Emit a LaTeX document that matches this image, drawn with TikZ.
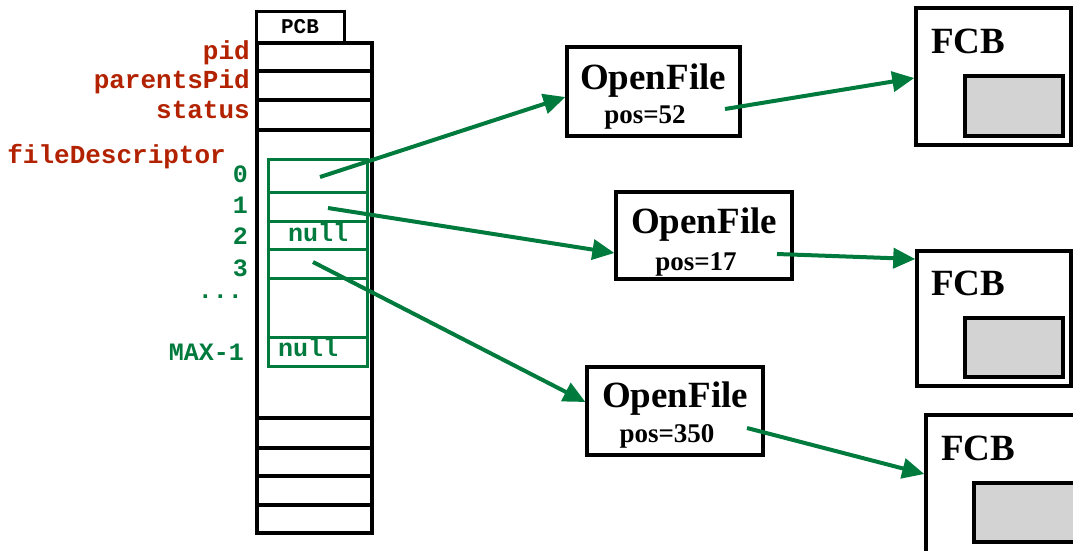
\documentclass[tikz,border=0pt]{standalone}
\usepackage{fontspec}
\setmainfont{Liberation Serif}
\setmonofont{Liberation Mono}
\usetikzlibrary{arrows.meta,calc}
\definecolor{fgreen}{RGB}{0,122,61}
\definecolor{fred}{RGB}{178,34,0}
\definecolor{fgrey}{RGB}{211,211,211}
\begin{document}
\begin{tikzpicture}[x=1pt,y=-1pt,
  pcbbox/.style={draw=black,line width=4pt,fill=white,inner sep=0pt},
  ofbox/.style={draw=black,line width=3.2pt,fill=white,inner sep=0pt},
  greybox/.style={draw=black,line width=3.5pt,fill=fgrey,inner sep=0pt},
  fdbox/.style={draw=fgreen,line width=3pt,inner sep=0pt},
  redlbl/.style={anchor=base east,inner sep=0pt,text=fred,font=\ttfamily\bfseries\fontsize{26}{26}\selectfont},
  grnlbl/.style={inner sep=0pt,text=fgreen,font=\ttfamily\bfseries\fontsize{25}{25}\selectfont},
  bigtxt/.style={inner sep=0pt,font=\bfseries\fontsize{37}{37}\selectfont},
  postxt/.style={anchor=base,inner sep=0pt,font=\bfseries\fontsize{27}{27}\selectfont},
  link/.style={draw=fgreen,line width=4pt,-{Triangle[length=22pt,width=20pt]}}]
\useasboundingbox (0,0) rectangle (1073,550);
\clip (0,0) rectangle (1073,550);

% PCB
\node[pcbbox,line width=3pt,minimum width=88pt,minimum height=31pt,
      font=\ttfamily\bfseries\fontsize{21}{21}\selectfont] (tab) at (300,27) {PCB};
\node[pcbbox,minimum width=115pt,minimum height=490pt] (pcb) at (314.5,288) {};
\foreach \yy in {71,100,130,418,448,476,505}
  \draw[line width=4pt] (pcb.west |- 0,\yy) -- (pcb.east |- 0,\yy);

% file descriptor table
\node[fdbox,minimum width=99pt,minimum height=207pt] (fd) at (317.5,262.5) {};
\foreach \yy in {192,221,249,278,337}
  \draw[draw=fgreen,line width=3pt] (fd.west |- 0,\yy) -- (fd.east |- 0,\yy);

% red labels
\node[redlbl] (lpid) at (250,59) {pid};
\node[redlbl] (lppid) at (250,88) {parentsPid};
\node[redlbl] (lstat) at (250,118) {status};
\node[redlbl] (lfd) at (226,163) {fileDescriptor};

% green labels
\node[grnlbl,anchor=base east] (l0) at (248,182) {0};
\node[grnlbl,anchor=base east] (l1) at (248,213) {1};
\node[grnlbl,anchor=base east] (l2) at (248,244) {2};
\node[grnlbl,anchor=base east] (l3) at (248,276) {3};
\node[grnlbl,anchor=base east] (ldots) at (243,298) {...};
\node[grnlbl,anchor=base east] (lmax) at (244,360) {MAX-1};
\node[grnlbl,anchor=base west] (n2) at (288,241) {null};
\node[grnlbl,anchor=base west] (nmax) at (278,356) {null};

% OpenFile boxes
\node[ofbox,minimum width=173pt,minimum height=89pt] (of1) at (653.5,91.5) {};
\node[bigtxt,anchor=base] (of1t) at (653,89) {OpenFile};
\node[postxt] (of1p) at (645,123) {pos=52};
\node[ofbox,minimum width=176pt,minimum height=87pt] (of2) at (704,235.5) {};
\node[bigtxt,anchor=base] (of2t) at (704,233) {OpenFile};
\node[postxt] (of2p) at (696,270) {pos=17};
\node[ofbox,minimum width=176pt,minimum height=88pt] (of3) at (675,411) {};
\node[bigtxt,anchor=base] (of3t) at (675,407) {OpenFile};
\node[postxt] (of3p) at (667,442) {pos=350};

% FCB boxes
\node[ofbox,line width=3.5pt,minimum width=155pt,minimum height=137pt] (fcb1) at (993.5,76.5) {};
\node[bigtxt,anchor=base west] (fcb1t) at (931,53) {FCB};
\node[greybox,minimum width=98pt,minimum height=60pt] (g1) at (1014,106) {};
\node[ofbox,line width=3.5pt,minimum width=154pt,minimum height=135pt] (fcb2) at (994,318.5) {};
\node[bigtxt,anchor=base west] (fcb2t) at (931,295) {FCB};
\node[greybox,minimum width=98pt,minimum height=59pt] (g2) at (1014,347.5) {};
\node[ofbox,line width=3.5pt,minimum width=159pt,minimum height=145pt] (fcb3) at (1005.5,487.5) {};
\node[bigtxt,anchor=base west] (fcb3t) at (941,460) {FCB};
\node[greybox,minimum width=104pt,minimum height=59pt] (g3) at (1026,512.5) {};

% connectors
\coordinate (c0) at (320,177);
\coordinate (c1) at (328,208);
\coordinate (c3) at (313,262);
\coordinate (s1) at (725,109);
\coordinate (s2) at (777,254);
\coordinate (s3) at (747,428);
\draw[link] (c0) -- (of1.west |- 0,97);
\draw[link] (c1) -- (of2.west |- 0,253);
\draw[link] (c3) -- (of3.west |- 0,402);
\draw[link] (s1) -- (fcb1.west |- 0,78);
\draw[link] (s2) -- (fcb2.west |- 0,259);
\draw[link] (s3) -- (fcb3.west |- 0,474);
\end{tikzpicture}
\end{document}
